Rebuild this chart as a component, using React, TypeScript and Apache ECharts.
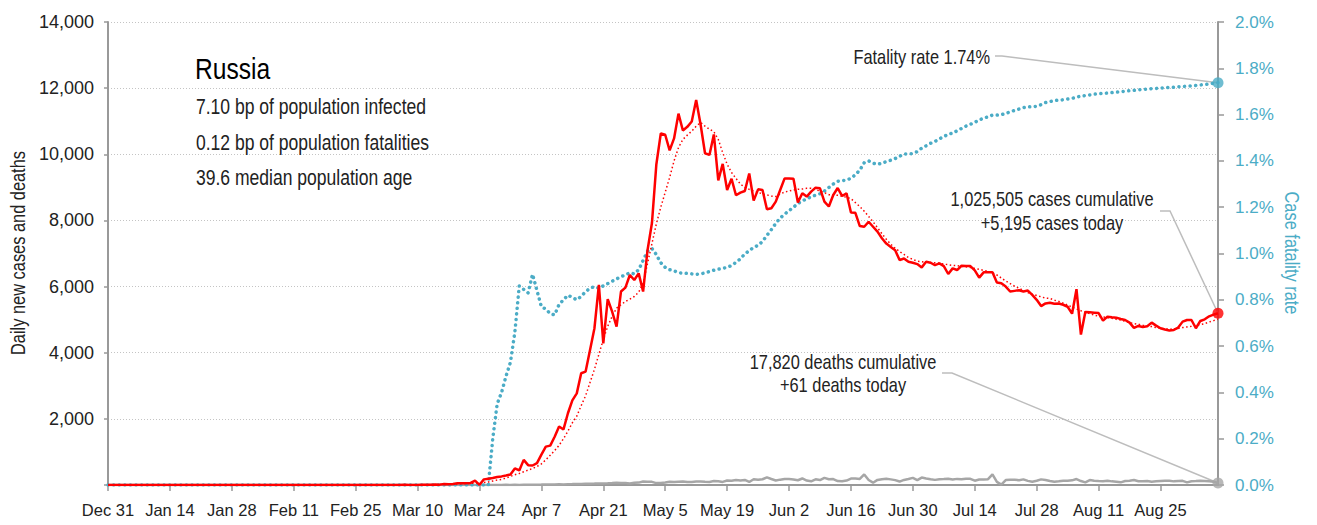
import React, { useEffect, useRef } from "react";
import * as echarts from "echarts";

const FONT = "'Liberation Sans', Arial, sans-serif";
const TEAL = "#4bacc6";
const RED = "#ff0000";
const GRAY = "#a6a6a6";
const NARROW = 0.82; // horizontal squeeze to mimic a condensed face

const MONTHS = ["Jan", "Feb", "Mar", "Apr", "May", "Jun", "Jul", "Aug", "Sep", "Oct", "Nov", "Dec"];
const DAY_COUNT = 252; // Dec 31, 2019 .. Sep 7, 2020
const dates: string[] = [];
for (let i = 0; i < DAY_COUNT; i++) {
  const d = new Date(Date.UTC(2019, 11, 31 + i));
  dates.push(`${MONTHS[d.getUTCMonth()]} ${d.getUTCDate()}`);
}

// Daily new cases (index 0 = Dec 31)
const cases = [
  0, 0, 0, 0, 0, 0, 0, 0, 0, 0,
  0, 0, 0, 0, 0, 0, 0, 0, 0, 0,
  0, 0, 0, 0, 0, 0, 0, 0, 0, 0,
  0, 2, 0, 0, 0, 0, 0, 0, 0, 0,
  0, 0, 0, 0, 0, 0, 0, 0, 0, 0,
  0, 0, 0, 0, 0, 0, 0, 0, 0, 0,
  0, 0, 1, 0, 0, 0, 1, 6, 3, 0,
  3, 7, 8, 6, 17, 11, 30, 21, 33, 52,
  54, 53, 61, 130, 5, 170, 190, 210, 240, 260,
  290, 320, 500, 440, 760, 600, 590, 660, 920, 1160,
  1190, 1460, 1770, 1680, 2170, 2560, 2770, 3380, 3430, 4080,
  4740, 6050, 4280, 5620, 5240, 4790, 5850, 5970, 6350, 6200,
  6400, 5850, 7100, 7920, 9700, 10630, 10590, 10120, 10480, 11230,
  10720, 10830, 10990, 11640, 10900, 10030, 9980, 10600, 9210, 9710,
  8920, 9260, 8760, 8840, 8890, 9420, 8600, 8940, 8920, 8340,
  8370, 8570, 8920, 9270, 9270, 9260, 8540, 8820, 8720, 8870,
  8990, 8970, 8570, 8420, 8770, 8980, 8740, 8820, 8240, 8230,
  7830, 7810, 7960, 7810, 7660, 7460, 7300, 7200, 7100, 6800,
  6850, 6750, 6720, 6680, 6580, 6750, 6720, 6650, 6700, 6620,
  6380, 6550, 6500, 6630, 6620, 6620, 6490, 6270, 6430, 6430,
  6430, 6120, 6100, 6000, 5850, 5870, 5890, 5850, 5880, 5750,
  5600, 5410, 5490, 5510, 5480, 5490, 5450, 5390, 5180, 5920,
  4550, 5230, 5220, 5210, 5200, 4970, 5090, 5070, 5060, 5020,
  4990, 4910, 4750, 4810, 4780, 4800, 4910, 4820, 4740, 4700,
  4670, 4690, 4760, 4940, 4990, 4990, 4740, 4960, 5010, 5100,
  5150, 5195,
];

// Smoothed trend of daily cases (dotted red)
const casesTrend = [
  0, 0, 0, 0, 0, 0, 0, 0, 0, 0,
  0, 0, 0, 0, 0, 0, 0, 0, 0, 0,
  0, 0, 0, 0, 0, 0, 0, 0, 0, 0,
  0, 0, 0, 0, 0, 0, 0, 0, 0, 0,
  0, 0, 0, 0, 0, 0, 0, 0, 0, 0,
  0, 0, 0, 0, 0, 0, 0, 0, 0, 0,
  0, 0, 0, 0, 0, 0, 0, 0, 0, 0,
  3, 5, 6, 8, 10, 12, 15, 20, 25, 32,
  40, 45, 50, 60, 65, 75, 90, 120, 150, 170,
  210, 260, 310, 350, 400, 450, 500, 560, 640, 760,
  900, 1040, 1200, 1400, 1630, 1880, 2080, 2400, 2700, 3100,
  3500, 3950, 4400, 4800, 5100, 5350, 5450, 5550, 5620, 5700,
  5830, 6100, 6700, 7300, 7900, 8400, 8850, 9300, 9800, 10200,
  10450, 10580, 10700, 10850, 10960, 10850, 10760, 10680, 10450, 10050,
  9700, 9450, 9270, 9100, 9000, 8940, 8890, 8850, 8800, 8770,
  8740, 8720, 8800, 8860, 8890, 8920, 8940, 8950, 8970, 8972,
  8930, 8890, 8840, 8780, 8770, 8760, 8730, 8700, 8660, 8540,
  8420, 8280, 8120, 7960, 7780, 7600, 7430, 7280, 7160, 7060,
  6970, 6880, 6820, 6770, 6750, 6740, 6730, 6720, 6710, 6680,
  6660, 6640, 6630, 6615, 6600, 6580, 6550, 6520, 6490, 6460,
  6420, 6350, 6260, 6170, 6090, 6010, 5950, 5880, 5820, 5770,
  5730, 5690, 5650, 5640, 5590, 5550, 5500, 5440, 5380, 5320,
  5270, 5230, 5180, 5140, 5100, 5080, 5060, 5040, 5010, 4990,
  4950, 4910, 4880, 4860, 4830, 4810, 4790, 4760, 4740, 4720,
  4710, 4720, 4735, 4760, 4780, 4800, 4830, 4850, 4880, 4930,
  4970, 5010,
];

// Daily deaths (grey)
const deaths = [
  0, 0, 0, 0, 0, 0, 0, 0, 0, 0,
  0, 0, 0, 0, 0, 0, 0, 0, 0, 0,
  0, 0, 0, 0, 0, 0, 0, 0, 0, 0,
  0, 0, 0, 0, 0, 0, 0, 0, 0, 0,
  0, 0, 0, 0, 0, 0, 0, 0, 0, 0,
  0, 0, 0, 0, 0, 0, 0, 0, 0, 0,
  0, 0, 0, 0, 0, 0, 0, 0, 0, 0,
  0, 0, 0, 0, 0, 0, 0, 0, 0, 1,
  0, 0, 0, 0, 1, 0, 1, 1, 1, 1,
  4, 1, 9, 2, 7, 4, 9, 11, 13, 18,
  13, 18, 22, 15, 25, 28, 34, 30, 36, 41,
  42, 48, 47, 51, 57, 66, 60, 58, 47, 66,
  72, 108, 101, 96, 57, 58, 76, 95, 88, 98,
  104, 88, 94, 107, 107, 96, 93, 119, 113, 94,
  135, 127, 150, 139, 153, 92, 174, 161, 174, 232,
  181, 138, 162, 182, 178, 169, 144, 197, 134, 112,
  171, 150, 216, 174, 181, 119, 113, 134, 193, 194,
  182, 320, 150, 70, 154, 176, 188, 170, 147, 104,
  154, 180, 216, 147, 225, 198, 175, 155, 173, 180,
  190, 168, 185, 175, 192, 188, 130, 165, 170, 175,
  320, 95, 10, 150, 155, 160, 145, 170, 125, 100,
  130, 170, 150, 120, 100, 110, 125, 130, 140, 180,
  120, 80, 150, 130, 120, 115, 130, 110, 100, 80,
  120, 130, 150, 115, 110, 120, 100, 110, 120, 125,
  130, 110, 120, 125, 80, 115, 120, 130, 120, 110,
  100, 61,
];

// Case fatality rate, percent (dotted teal, right axis)
const fatalityRate = [
  0, 0, 0, 0, 0, 0, 0, 0, 0, 0,
  0, 0, 0, 0, 0, 0, 0, 0, 0, 0,
  0, 0, 0, 0, 0, 0, 0, 0, 0, 0,
  0, 0, 0, 0, 0, 0, 0, 0, 0, 0,
  0, 0, 0, 0, 0, 0, 0, 0, 0, 0,
  0, 0, 0, 0, 0, 0, 0, 0, 0, 0,
  0, 0, 0, 0, 0, 0, 0, 0, 0, 0,
  0, 0, 0, 0, 0, 0, 0, 0, 0, 0,
  0, 0, 0, 0, 0, 0, 0, 0.2, 0.35, 0.4,
  0.47, 0.53, 0.66, 0.86, 0.845, 0.83, 0.91, 0.84, 0.77, 0.76,
  0.74, 0.735, 0.78, 0.8, 0.82, 0.81, 0.8, 0.815, 0.835, 0.85,
  0.857, 0.85, 0.86, 0.87, 0.88, 0.89, 0.9, 0.907, 0.917, 0.912,
  0.93, 0.97, 1.01, 1.022, 0.995, 0.96, 0.94, 0.93, 0.925, 0.917,
  0.915, 0.914, 0.912, 0.91, 0.912, 0.916, 0.922, 0.928, 0.932, 0.936,
  0.94, 0.948, 0.962, 0.977, 0.998, 1.012, 1.027, 1.035, 1.052, 1.078,
  1.103, 1.13, 1.153, 1.17, 1.185, 1.2, 1.216, 1.227, 1.236, 1.245,
  1.252, 1.258, 1.27, 1.285, 1.3, 1.312, 1.315, 1.317, 1.325, 1.34,
  1.36, 1.392, 1.4, 1.39, 1.385, 1.39, 1.397, 1.403, 1.41, 1.42,
  1.43, 1.43, 1.432, 1.44, 1.455, 1.465, 1.476, 1.484, 1.495, 1.505,
  1.515, 1.52, 1.53, 1.54, 1.55, 1.558, 1.567, 1.576, 1.585, 1.59,
  1.598, 1.598, 1.6, 1.605, 1.612, 1.618, 1.624, 1.63, 1.633, 1.634,
  1.636, 1.643, 1.652, 1.656, 1.661, 1.662, 1.664, 1.667, 1.67, 1.675,
  1.68, 1.682, 1.685, 1.688, 1.69, 1.692, 1.693, 1.695, 1.697, 1.699,
  1.701, 1.703, 1.705, 1.707, 1.709, 1.71, 1.712, 1.713, 1.715, 1.716,
  1.717, 1.718, 1.72, 1.721, 1.723, 1.724, 1.726, 1.728, 1.73, 1.732,
  1.735, 1.738,
];

const TITLE = "Russia";
const INFO_LINES = [
  "7.10 bp of population infected",
  "0.12 bp of population fatalities",
  "39.6 median population age",
];
const FATALITY_NOTE = "Fatality rate 1.74%";
const CASES_NOTE = ["1,025,505 cases cumulative", "+5,195 cases today"];
const DEATHS_NOTE = ["17,820 deaths cumulative", "+61 deaths today"];
const LEFT_AXIS_NAME = "Daily new cases and deaths";
const RIGHT_AXIS_NAME = "Case fatality rate";

export default function App() {
  const ref = useRef<HTMLDivElement>(null);

  useEffect(() => {
    document.body.style.margin = "0";
    if (!ref.current) return;
    const chart = echarts.init(ref.current, undefined, { renderer: "svg" });
    const last = cases.length - 1;

    chart.setOption({
      animation: false,
      backgroundColor: "#ffffff",
      textStyle: { fontFamily: FONT },
      grid: { left: 108, right: 99, top: 22, bottom: 40, containLabel: false },
      xAxis: {
        type: "category",
        data: dates,
        boundaryGap: false,
        axisLine: { lineStyle: { color: "#999999", width: 2 } },
        axisTick: { interval: 13, length: 6, lineStyle: { color: "#999999", width: 1.5 } },
        axisLabel: {
          interval: 13,
          color: "#222222",
          fontSize: 16.5,
          fontFamily: FONT,
          margin: 16,
        },
        splitLine: { show: false },
      },
      yAxis: [
        {
          type: "value",
          min: 0,
          max: 14000,
          interval: 2000,
          position: "left",
          axisLine: { show: true, lineStyle: { color: "#999999", width: 2 } },
          axisTick: { show: true, length: 4, lineStyle: { color: "#999999", width: 1.5 } },
          axisLabel: {
            color: "#222222",
            fontSize: 18,
            fontFamily: FONT,
            margin: 14,
            formatter: (v: number) => (v === 0 ? "" : v.toLocaleString("en-US")),
          },
          splitLine: { show: true, lineStyle: { color: "#c4c4c4", width: 1, type: [1, 2] } },
        },
        {
          type: "value",
          min: 0,
          max: 2,
          interval: 0.2,
          position: "right",
          axisLine: { show: true, lineStyle: { color: "#999999", width: 2 } },
          axisTick: { show: true, length: 6, lineStyle: { color: "#999999", width: 1.5 } },
          axisLabel: {
            color: TEAL,
            fontSize: 17,
            fontFamily: FONT,
            margin: 17,
            formatter: (v: number) => v.toFixed(1) + "%",
          },
          splitLine: { show: false },
        },
      ],
      series: [
        {
          name: "Deaths",
          type: "line",
          yAxisIndex: 0,
          data: deaths,
          symbol: "none",
          lineStyle: { color: GRAY, width: 2.5 },
          z: 2,
        },
        {
          name: "Case fatality rate",
          type: "line",
          yAxisIndex: 1,
          data: fatalityRate,
          symbol: "none",
          lineStyle: { color: TEAL, width: 3.5, type: [0.1, 5.5], cap: "round" },
          z: 3,
        },
        {
          name: "Trend",
          type: "line",
          yAxisIndex: 0,
          data: casesTrend,
          symbol: "none",
          lineStyle: { color: RED, width: 1.5, type: [1.5, 2.5] },
          z: 4,
        },
        {
          name: "Cases",
          type: "line",
          yAxisIndex: 0,
          data: cases,
          symbol: "none",
          lineStyle: { color: RED, width: 2.5 },
          z: 5,
        },
        {
          type: "scatter",
          yAxisIndex: 0,
          data: [[last, deaths[last]]],
          symbolSize: 11,
          itemStyle: { color: GRAY },
          z: 6,
        },
        {
          type: "scatter",
          yAxisIndex: 0,
          data: [[last, cases[last]]],
          symbolSize: 11,
          itemStyle: { color: RED },
          z: 6,
        },
        {
          type: "scatter",
          yAxisIndex: 1,
          data: [[last, fatalityRate[last]]],
          symbolSize: 11,
          itemStyle: { color: TEAL },
          z: 6,
        },
      ],
    });

    const px = (yi: number, v: number) =>
      chart.convertToPixel({ xAxisIndex: 0, yAxisIndex: yi }, [last, v]) as number[];
    const pCfr = px(1, fatalityRate[last]);
    const pCases = px(0, cases[last]);
    const pDeaths = px(0, deaths[last]);

    const leader = (pts: number[][]) => ({
      type: "polyline",
      shape: { points: pts },
      style: { stroke: "#bdbdbd", lineWidth: 1.5, fill: null },
      z: 1,
    });
    const text = (
      t: string,
      x: number,
      y: number,
      size: number,
      align: string,
      color = "#111111",
      rotation = 0
    ) => ({
      type: "text",
      x,
      y,
      rotation,
      scaleX: NARROW,
      scaleY: 1,
      style: {
        text: t,
        fontSize: size,
        fontFamily: FONT,
        fill: color,
        align,
        verticalAlign: "middle",
      },
      z: 10,
    });

    chart.setOption({
      graphic: [
        leader([[995, 56], [1002, 56], [pCfr[0], pCfr[1]]]),
        leader([[1160, 211], [1170, 211], [pCases[0], pCases[1]]]),
        leader([[942, 373], [952, 373], [pDeaths[0], pDeaths[1]]]),
        text(TITLE, 195, 69, 30, "left", "#000000"),
        text(INFO_LINES[0], 196, 106, 21.4, "left", "#222222"),
        text(INFO_LINES[1], 196, 142, 21.4, "left", "#222222"),
        text(INFO_LINES[2], 196, 177, 21.4, "left", "#222222"),
        text(FATALITY_NOTE, 990, 57, 20, "right", "#222222"),
        text(CASES_NOTE[0], 1052, 199, 20, "center", "#222222"),
        text(CASES_NOTE[1], 1052, 223, 20, "center", "#222222"),
        text(DEATHS_NOTE[0], 843, 362, 20, "center", "#222222"),
        text(DEATHS_NOTE[1], 843, 385, 20, "center", "#222222"),
        text(LEFT_AXIS_NAME, 18, 253, 20, "center", "#222222", Math.PI / 2),
        text(RIGHT_AXIS_NAME, 1292, 253, 20, "center", TEAL, -Math.PI / 2),
      ],
    });

    return () => chart.dispose();
  }, []);

  return <div ref={ref} style={{ width: 1317, height: 525 }} />;
}
